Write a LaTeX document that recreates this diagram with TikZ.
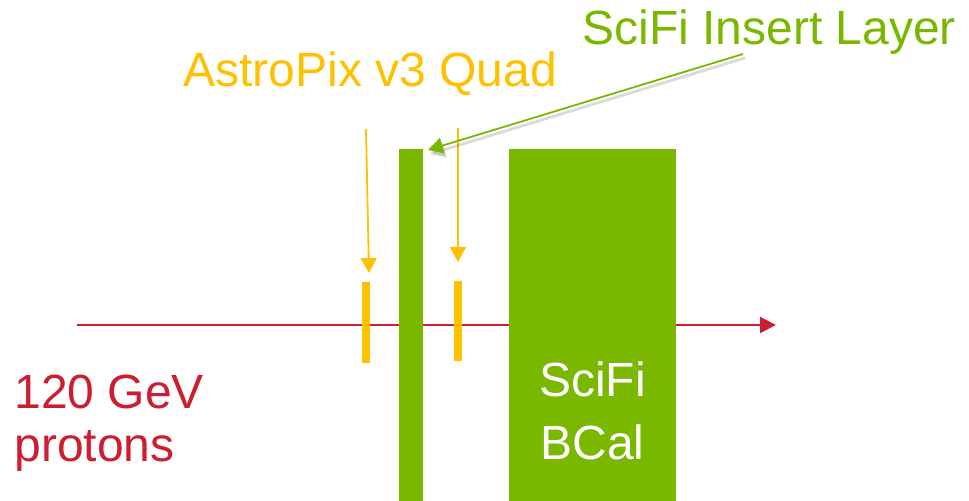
\documentclass[tikz,border=0pt]{standalone}
\usepackage{fontspec}
\setmainfont{Liberation Sans}
\usetikzlibrary{arrows.meta}
\definecolor{scigreen}{RGB}{122,184,0}
\definecolor{pixorange}{RGB}{255,192,0}
\definecolor{beamred}{RGB}{204,30,48}

\tikzset{
  bigtext/.style={font=\fontsize{24}{26.5}\selectfont, inner sep=0pt},
  pixbar/.style={fill=pixorange, inner sep=0pt, minimum width=4pt},
  fibre/.style={fill=scigreen, inner sep=0pt},
  pointer/.style={line width=0.9pt, -{Triangle[length=7.5pt,width=8pt]}}
}

\begin{document}
\begin{tikzpicture}[x=0.5pt, y=-0.5pt]
  \useasboundingbox (0,0) rectangle (969,501);

  % beam line, drawn first so the layers sit on top of it
  \coordinate (beamstart) at (77,325);
  \coordinate (beamend) at (776,325);
  \draw[beamred, line width=1pt, -{Triangle[length=8pt,width=8pt]}] (beamstart) -- (beamend);

  % detector layers
  \node[pixbar, minimum height=40.5pt] (pix1) at (366,322.5) {};
  \node[fibre, minimum width=12pt, minimum height=176pt] (insert) at (411,325) {};
  \node[pixbar, minimum height=40pt] (pix2) at (458,321) {};
  \node[fibre, minimum width=83.5pt, minimum height=176pt] (bcal) at (592.5,325) {};
  \node[text=white, bigtext, anchor=base] (bcaltop) at (592.5,397) {SciFi};
  \node[text=white, bigtext, anchor=base] (bcalbot) at (592.5,460) {BCal};

  % labels
  \node[bigtext, text=pixorange, anchor=base west] (pixlabel) at (183,87) {AstroPix v3 Quad};
  \node[bigtext, text=scigreen, anchor=base west] (insertlabel) at (582,45) {SciFi Insert Layer};
  \node[bigtext, text=beamred, anchor=base west] (beam) at (14,409) {120 GeV};
  \node[bigtext, text=beamred, anchor=base west] (beam2) at (14,462) {protons};

  % pointers to the layers
  \coordinate (p1from) at (366,129);
  \coordinate (p1to) at (369,273);
  \coordinate (p2from) at (458,128);
  \coordinate (p2to) at (458,262);
  \draw[pointer, pixorange] (p1from) -- (p1to);
  \draw[pointer, pixorange] (p2from) -- (p2to);

  \coordinate (insfrom) at (743,54);
  \coordinate (insto) at (428,150);
  % soft shadow under the green pointer
  \foreach \o in {0.05,0.05,0.05}
    \draw[pointer, black, opacity=\o, line width=1.4pt] ([shift={(2,4)}]insfrom) -- ([shift={(2,4)}]insto);
  \draw[pointer, scigreen] (insfrom) -- (insto);
\end{tikzpicture}
\end{document}
